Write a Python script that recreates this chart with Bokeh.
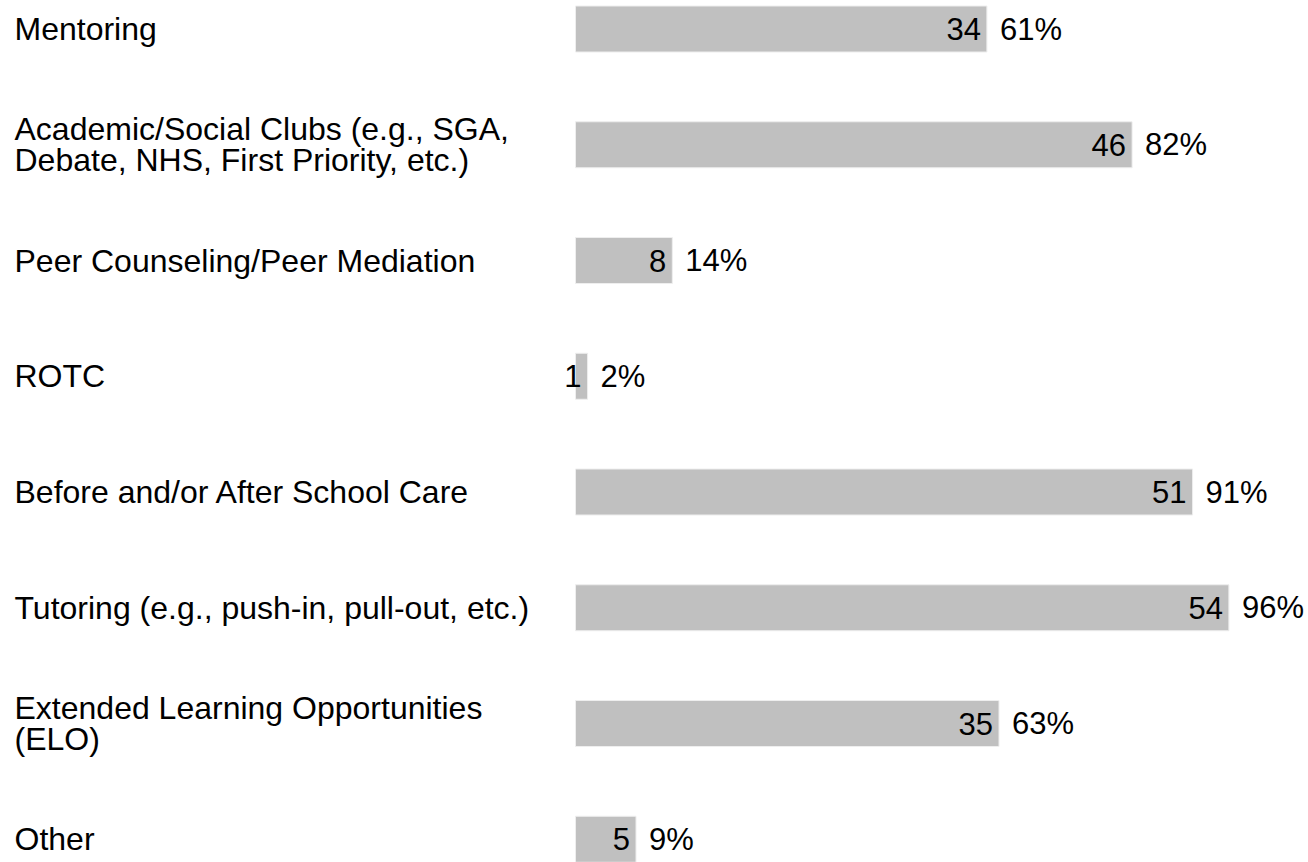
from bokeh.plotting import figure
from bokeh.models import ColumnDataSource, Range1d
from bokeh.core.properties import value
from bokeh.embed import file_html
from bokeh.resources import INLINE

categories = [
    "Mentoring",
    "Academic/Social Clubs (e.g., SGA,\nDebate, NHS, First Priority, etc.)",
    "Peer Counseling/Peer Mediation",
    "ROTC",
    "Before and/or After School Care",
    "Tutoring (e.g., push-in, pull-out, etc.)",
    "Extended Learning Opportunities\n(ELO)",
    "Other",
]
counts = [34, 46, 8, 1, 51, 54, 35, 5]
percents = ["61%", "82%", "14%", "2%", "91%", "96%", "63%", "9%"]

# layout (pixels)
W, H = 1308, 862
PX_PER_UNIT = 12.1
BAR_LEFT = 575          # frame px where bars start
ROW_PITCH = 115.75
FIRST_ROW = 28.5        # frame px of first row centre
BAR_H_PX = 46
LABEL_FONT = "32px"
VALUE_FONT = "31px"

x_start = -BAR_LEFT / PX_PER_UNIT
x_end = x_start + W / PX_PER_UNIT
y_top = -FIRST_ROW / ROW_PITCH
y_bottom = (H - FIRST_ROW) / ROW_PITCH

rows = list(range(len(categories)))
src = ColumnDataSource(dict(
    y=rows,
    count=counts,
    count_str=[str(c) for c in counts],
    pct=percents,
    cat=categories,
    lx=[x_start + 14 / PX_PER_UNIT] * len(rows),
))

p = figure(width=W, height=H, output_backend="svg", toolbar_location=None,
           x_range=Range1d(x_start, x_end), y_range=Range1d(y_bottom, y_top),
           min_border=0, min_border_left=0, min_border_right=0,
           min_border_top=0, min_border_bottom=0)
p.axis.visible = False
p.grid.visible = False
p.outline_line_color = None
p.background_fill_color = "white"
p.border_fill_color = "white"

p.hbar(y="y", left=0, right="count", height=BAR_H_PX / ROW_PITCH, source=src,
       fill_color="#c0c0c0", line_color="#eeeeee", line_width=1)

p.text(x="count", y="y", text="count_str", source=src, x_offset=-6,
       text_align="right", text_baseline="middle",
       text_font=value("Liberation Sans"), text_font_size=VALUE_FONT, text_color="black")
p.text(x="count", y="y", text="pct", source=src, x_offset=13,
       text_align="left", text_baseline="middle",
       text_font=value("Liberation Sans"), text_font_size=VALUE_FONT, text_color="black")
p.text(x="lx", y="y", text="cat", source=src,
       text_align="left", text_baseline="middle", text_line_height=0.86,
       text_font=value("Liberation Sans"), text_font_size=LABEL_FONT, text_color="black")

open("out.html", "w").write(file_html(p, INLINE))
